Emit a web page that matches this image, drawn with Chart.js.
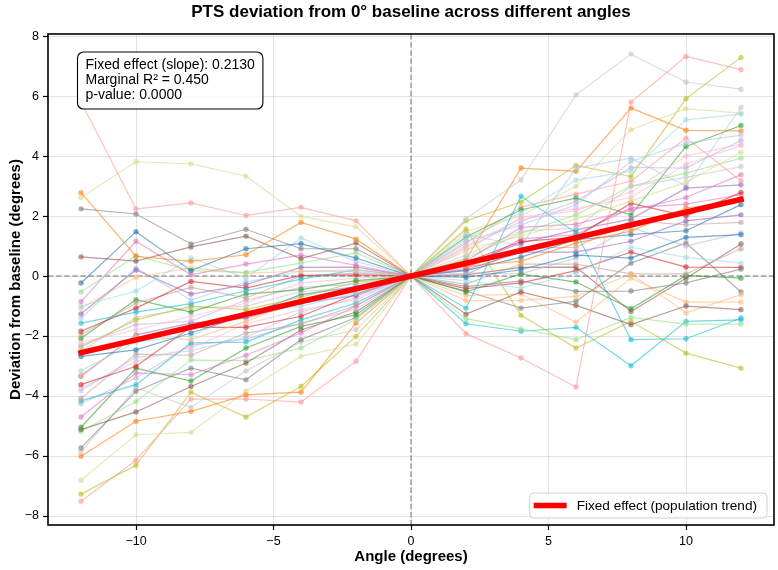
<!DOCTYPE html>
<html>
<head>
<meta charset="utf-8">
<script src="https://cdn.jsdelivr.net/npm/chart.js@4.4.0/dist/chart.umd.min.js"></script>
<style>
html,body{margin:0;padding:0;background:#fff;}
#wrap{width:778px;height:570px;position:relative;}
</style>
</head>
<body>
<div id="wrap"><canvas id="c" width="778" height="570"></canvas></div>
<script>
// ---------------- DATA ----------------
const angles = [-12, -10, -8, -6, -4, -2, 0, 2, 4, 6, 8, 10, 12];

// deviation of each subject (40 subjects) at each angle
const devAtM12 = [5.8, 2.78, 2.62, 2.24, 0.64, -0.23, -0.53, -0.85, -1.0, -1.07, -1.26, -1.40, -1.57, -1.84, -1.96, -2.07, -2.2, -2.3, -2.37, -2.5, -2.68, -3.16, -3.3, -3.34, -3.62, -3.73, -3.82, -4.07, -4.16, -4.26, -4.7, -5.04, -5.12, -5.18, -5.73, -5.86, -6.01, -6.81, -7.27, -7.51];
const devAtM10 = [2.24, 0.66, 3.81, 2.07, 0.5, 1.48, 0.68, 1.16, -0.5, -0.04, 0.2, 0.27, -1.2, -1.07, -0.9, -0.79, -1.8, -1.62, -1.46, -1.38, -2.46, -2.2, -2.01, -1.96, -3.01, -2.84, -2.71, -2.6, -3.62, -3.4, -3.23, -3.07, -4.53, -4.18, -3.84, -3.73, -4.84, -5.29, -6.31, -6.14];
const devAtM8 = [2.44, 0.49, 3.74, 1.07, 0.97, 0.18, 0.18, 0.04, 0.6, 0.27, -0.6, -0.8, -0.92, -0.18, -0.38, -1.2, -1.34, -1.5, -1.0, -1.07, -1.9, -2.0, -2.12, -1.57, -1.7, -2.4, -2.49, -2.64, -2.23, -2.3, -3.29, -3.5, -3.68, -2.8, -3.07, -4.38, -4.51, -5.21, -3.87, -4.1];
const devAtM6 = [2.02, 0.71, 3.33, 1.56, 1.33, 0.91, 0.12, 0.4, -0.07, 0.1, -0.29, -0.2, -0.49, -0.4, -0.73, -0.6, -0.9, -0.8, -1.12, -1.01, -1.3, -1.18, -1.51, -1.4, -1.71, -1.6, -2.04, -1.9, -2.2, -2.1, -2.64, -2.4, -2.9, -2.82, -3.46, -3.16, -3.96, -3.84, -4.7, -4.1];
const devAtM4 = [2.29, 1.79, 1.99, 0.91, 0.58, 1.08, 0.43, 0.7, 1.27, 0.16, 0.29, 0.16, -0.1, 0.02, 0.0, -0.45, -0.23, -0.38, -0.7, -0.51, -0.62, -1.0, -0.79, -0.9, -1.34, -1.12, -1.2, -1.6, -1.46, -1.57, -1.9, -1.68, -1.8, -2.4, -2.12, -2.2, -3.87, -2.68, -3.68, -4.2];
const devAtM2 = [1.84, 1.23, 1.64, 0.91, 1.1, 0.6, 0.77, 0.36, 0.49, 0.21, 0.3, 0.15, 0.21, 0.04, 0.1, -0.15, -0.07, -0.27, -0.2, -0.42, -0.35, -0.57, -0.5, -0.65, -0.6, -0.8, -0.73, -0.98, -0.9, -1.1, -1.0, -1.29, -1.2, -1.45, -1.38, -1.79, -1.57, -2.27, -2.01, -2.84];
const devAt0 = [0, 0, 0, 0, 0, 0, 0, 0, 0, 0, 0, 0, 0, 0, 0, 0, 0, 0, 0, 0, 0, 0, 0, 0, 0, 0, 0, 0, 0, 0, 0, 0, 0, 0, 0, 0, 0, 0, 0, 0];
const devAtP2 = [-1.92, 0.32, 0.9, -0.35, -1.27, -0.04, -1.42, 0.5, -0.15, -0.82, 0.21, 1.16, -1.07, 0.46, -0.27, -0.53, 1.02, 0.1, 1.57, 0.7, 0.18, 1.24, -0.65, 0.4, -0.42, 0.84, 1.4, 0.04, -1.59, 0.95, 0.25, 1.3, 0.04, 0.6, -0.5, 1.91, 0.55, 1.5, 1.84, 1.1];
const devAtP4 = [-2.73, 0.5, 1.32, -0.16, -0.53, 0.21, -1.76, 1.62, -0.4, -0.81, 0.8, 1.7, 2.66, 1.15, 0.4, 0.07, 1.9, 0.07, -1.31, 1.5, 0.63, 2.1, -0.6, 1.1, -0.23, 1.96, 1.0, 0.93, -1.84, 1.82, 1.24, 2.21, 0.29, 1.43, -1.07, 3.21, 3.60, 2.0, 2.47, 2.3];
const devAtP6 = [-3.7, 1.1, 1.9, -0.51, -0.98, 0.7, -2.12, 1.73, 0.1, -0.68, 0.8, 2.38, 1.45, 1.3, 0.4, -0.2, 2.18, 0.6, -2.4, 1.6, 1.21, 3.2, -1.54, 1.54, 0.18, 2.25, 3.6, 0.96, -1.71, 2.49, 1.38, 2.6, 0.3, 2.04, -0.84, 6.04, 3.49, 2.99, 3.69, 2.73];
const devAtP8 = [5.8, 1.5, 2.5, -0.5, -1.62, 0.6, -1.38, 2.2, 0.96, 0.07, 1.16, 3.82, -2.12, 2.43, 0.07, -1.09, 2.8, 1.62, -1.51, 2.99, 1.38, 3.5, -0.07, 1.9, 0.8, 2.62, 3.93, 1.84, -2.99, 3.62, 2.27, 2.04, -1.18, 3.0, 0.43, 7.4, 5.6, 4.88, 3.32, 3.16];
const devAtP10 = [7.32, 2.27, 3.13, -0.23, -1.0, 1.29, -1.6, 2.62, 0.62, -1.23, 1.84, 4.43, -2.09, 2.0, 0.07, 0.02, 4.0, 1.0, -2.57, 3.29, 1.51, 5.21, -0.87, 2.93, 0.3, 3.73, 3.0, 1.71, -1.51, 3.6, 2.4, 4.32, -0.07, 3.43, 1.1, 6.47, 4.86, 5.58, 5.91, 4.6];
const devAtP12 = [6.88, 2.5, 4.13, 0.23, -1.12, 1.38, -1.6, 3.38, 0.43, -0.62, 2.04, 4.7, -1.4, 2.79, 0.91, -0.07, 4.4, 1.44, -3.07, 3.65, 2.38, 5.4, -0.87, 3.04, 0.29, 4.35, 5.62, 1.79, -1.46, 4.53, 2.71, 5.02, 1.07, 3.93, -0.53, 6.23, 4.84, 5.43, 7.29, 3.18];

const xTicks = [-10, -5, 0, 5, 10];
const yTicks = [-8, -6, -4, -2, 0, 2, 4, 6, 8];

const fixedSlope = 0.2130;
const marginalR2 = 0.450;
const pValue = 0.0000;

const titleText = 'PTS deviation from 0° baseline across different angles';
const xTitle = 'Angle (degrees)';
const yTitle = 'Deviation from baseline (degrees)';
const legendLabel = 'Fixed effect (population trend)';

// ---------------- STYLE ----------------
const palette = ['#1f77b4','#aec7e8','#ff7f0e','#ffbb78','#2ca02c','#98df8a','#d62728','#ff9896','#9467bd','#c5b0d5',
                 '#8c564b','#c49c94','#e377c2','#f7b6d2','#7f7f7f','#c7c7c7','#bcbd22','#dbdb8d','#17becf','#9edae5'];
const colorOrder = [7,2,17,14,10,0,5,12,19,3,8,1,18,6,11,4,13,9,16,15,0,19,3,8,6,13,1,11,18,9,12,4,10,5,14,15,2,17,16,7];
const FONT = "'Liberation Sans', Arial, Helvetica, sans-serif";

function rgba(hex, a) {
  const r = parseInt(hex.slice(1,3),16), g = parseInt(hex.slice(3,5),16), b = parseInt(hex.slice(5,7),16);
  return `rgba(${r},${g},${b},${a})`;
}
function fmt(v) { return v < 0 ? '\u2212' + Math.abs(v) : String(v); }

const columns = [devAtM12, devAtM10, devAtM8, devAtM6, devAtM4, devAtM2, devAt0, devAtP2, devAtP4, devAtP6, devAtP8, devAtP10, devAtP12];
const nSubjects = devAtM12.length;

const datasets = [];
// population trend (drawn on top: lowest order)
datasets.push({
  label: legendLabel,
  data: [angles[0], angles[angles.length-1]].map(a => ({x: a, y: fixedSlope * a})),
  showLine: true,
  borderColor: '#ff0000',
  borderWidth: 5.5,
  borderCapStyle: 'square',
  pointRadius: 0,
  order: 0
});
for (let s = 0; s < nSubjects; s++) {
  const col = palette[colorOrder[s % colorOrder.length]];
  datasets.push({
    label: 'S' + (s+1),
    data: angles.map((a, k) => ({x: a, y: columns[k][s]})),
    showLine: true,
    borderColor: rgba(col, 0.6),
    backgroundColor: rgba(col, 0.6),
    pointBackgroundColor: rgba(col, 0.6),
    pointBorderWidth: 0,
    pointRadius: 2.7,
    borderWidth: 1.2,
    tension: 0,
    order: 1
  });
}

function roundRect(ctx, x, y, w, h, r) {
  ctx.beginPath();
  ctx.moveTo(x + r, y);
  ctx.lineTo(x + w - r, y);
  ctx.arcTo(x + w, y, x + w, y + r, r);
  ctx.lineTo(x + w, y + h - r);
  ctx.arcTo(x + w, y + h, x + w - r, y + h, r);
  ctx.lineTo(x + r, y + h);
  ctx.arcTo(x, y + h, x, y + h - r, r);
  ctx.lineTo(x, y + r);
  ctx.arcTo(x, y, x + r, y, r);
  ctx.closePath();
}

const decor = {
  id: 'decor',
  beforeDatasetsDraw(chart) {
    const {ctx, chartArea: ca, scales: {x, y}} = chart;
    ctx.save();
    ctx.beginPath();
    ctx.rect(ca.left, ca.top, ca.right - ca.left, ca.bottom - ca.top);
    ctx.clip();
    ctx.strokeStyle = 'rgba(128,128,128,0.75)';
    ctx.lineWidth = 1.5;
    ctx.setLineDash([5.5, 2.6]);
    const y0 = y.getPixelForValue(0), x0 = x.getPixelForValue(0);
    ctx.beginPath(); ctx.moveTo(ca.left, y0); ctx.lineTo(ca.right, y0); ctx.stroke();
    ctx.beginPath(); ctx.moveTo(x0, ca.top); ctx.lineTo(x0, ca.bottom); ctx.stroke();
    ctx.restore();
  },
  afterDatasetsDraw(chart) {
    const {ctx, chartArea: ca} = chart;
    ctx.save();
    // spines
    ctx.strokeStyle = '#000';
    ctx.lineWidth = 1.6;
    ctx.strokeRect(ca.left, ca.top, ca.right - ca.left, ca.bottom - ca.top);

    // stats box
    const lines = [
      'Fixed effect (slope): ' + fixedSlope.toFixed(4),
      'Marginal R\u00B2 = ' + marginalR2.toFixed(3),
      'p-value: ' + pValue.toFixed(4)
    ];
    ctx.font = `14px ${FONT}`;
    let w = 0;
    lines.forEach(t => { w = Math.max(w, ctx.measureText(t).width); });
    const bx = 77.5, by = 52, bw = w + 16, bh = 57;
    roundRect(ctx, bx, by, bw, bh, 6);
    ctx.fillStyle = 'rgba(255,255,255,0.85)';
    ctx.fill();
    ctx.lineWidth = 1.1;
    ctx.strokeStyle = '#000';
    ctx.stroke();
    ctx.fillStyle = '#000';
    ctx.textAlign = 'left';
    ctx.textBaseline = 'middle';
    lines.forEach((t, i) => ctx.fillText(t, bx + 8, by + 13 + i * 15));

    // legend
    ctx.font = `13.6px ${FONT}`;
    const tw = ctx.measureText(legendLabel).width;
    const lw = tw + 57, lh = 25;
    const lx = ca.right - 7 - lw, ly = ca.bottom - 7 - lh;
    roundRect(ctx, lx, ly, lw, lh, 4);
    ctx.fillStyle = 'rgba(255,255,255,0.85)';
    ctx.fill();
    ctx.lineWidth = 1;
    ctx.strokeStyle = '#d0d0d0';
    ctx.stroke();
    ctx.strokeStyle = '#ff0000';
    ctx.lineWidth = 5.5;
    ctx.beginPath();
    ctx.moveTo(lx + 4, ly + lh / 2);
    ctx.lineTo(lx + 37, ly + lh / 2);
    ctx.stroke();
    ctx.fillStyle = '#000';
    ctx.textBaseline = 'middle';
    ctx.fillText(legendLabel, lx + 47, ly + lh / 2 + 0.5);
    ctx.restore();
  },
  afterDraw(chart) {
    const {ctx, chartArea: ca} = chart;
    ctx.save();
    ctx.fillStyle = '#000';
    ctx.textAlign = 'center';
    ctx.textBaseline = 'middle';
    ctx.font = `bold 17px ${FONT}`;
    ctx.fillText(titleText, (ca.left + ca.right) / 2, 12);
    ctx.font = `bold 15px ${FONT}`;
    ctx.fillText(xTitle, (ca.left + ca.right) / 2, 557);
    ctx.translate(16, (ca.top + ca.bottom) / 2);
    ctx.rotate(-Math.PI / 2);
    ctx.fillText(yTitle, 0, 0);
    ctx.restore();
  }
};

const gridCommon = {
  color: 'rgba(176,176,176,0.35)',
  lineWidth: 1,
  tickColor: '#000',
  tickLength: 5,
  tickWidth: 1.2,
  drawTicks: true
};

new Chart(document.getElementById('c'), {
  type: 'scatter',
  data: { datasets },
  options: {
    responsive: false,
    devicePixelRatio: 1,
    animation: false,
    events: [],
    layout: { padding: { top: 34, right: 4, left: 0, bottom: 0 } },
    plugins: { legend: { display: false }, tooltip: { enabled: false }, title: { display: false } },
    scales: {
      x: {
        type: 'linear', min: -13.2, max: 13.2,
        afterBuildTicks: s => { s.ticks = xTicks.map(v => ({value: v})); },
        afterFit: s => { s.height = 45; },
        ticks: { callback: v => fmt(v), color: '#000', font: { family: FONT, size: 12.5 }, padding: 4, maxRotation: 0, autoSkip: false },
        grid: gridCommon,
        border: { display: false }
      },
      y: {
        type: 'linear', min: -8.3, max: 8.07,
        afterBuildTicks: s => { s.ticks = yTicks.map(v => ({value: v})); },
        afterFit: s => { s.width = 48; },
        ticks: { callback: v => fmt(v), color: '#000', font: { family: FONT, size: 12.5 }, padding: 4, autoSkip: false },
        grid: gridCommon,
        border: { display: false }
      }
    }
  },
  plugins: [decor]
});
</script>
</body>
</html>
